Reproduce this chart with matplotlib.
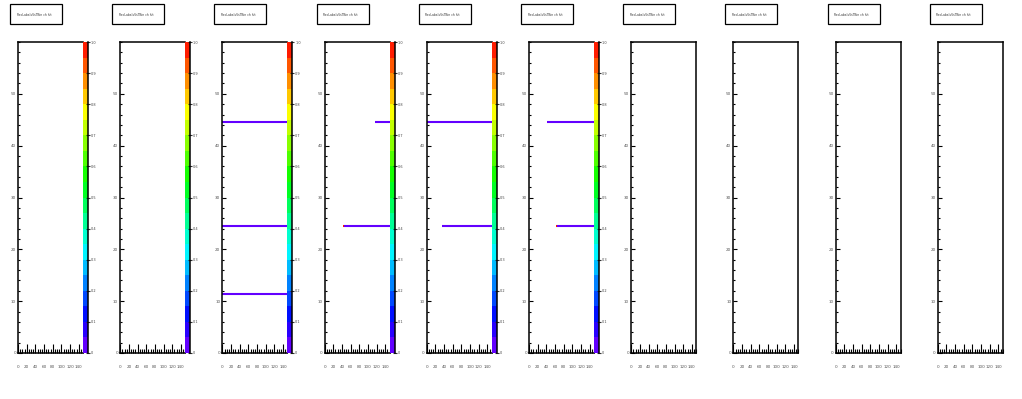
import colorsys
import numpy as np
import matplotlib
matplotlib.use('Agg')
import matplotlib.pyplot as plt
from matplotlib.colors import ListedColormap
from matplotlib.patches import Rectangle

# Data
n_panels = 10
panel_title = "RecLabelsVsTBin ch hit"
has_palette = [True, True, True, True, True, True, False, False, False, False]

x_ticks = [0, 20, 40, 60, 80, 100, 120, 140]
y_ticks = [0, 10, 20, 30, 40, 50]
z_ticks = [0, 0.1, 0.2, 0.3, 0.4, 0.5, 0.6, 0.7, 0.8, 0.9, 1.0]

# filled rows (drawn in the lowest palette colour): panel, x start, x end, y
seg_panel = [2, 2, 2, 3, 3, 4, 4, 5, 5]
seg_x0 = [0, 0, 0, 117, 44, 1, 35, 41, 64]
seg_x1 = [150, 150, 150, 150, 150, 150, 150, 150, 150]
seg_y = [44.6, 24.5, 11.4, 44.6, 24.5, 44.6, 24.5, 44.6, 24.5]

# single hotter cells at the start of some rows
hot_panel = [3, 5]
hot_x = [43, 63]
hot_y = [24.5, 24.5]

W, H = 1022, 399
fig = plt.figure(figsize=(W / 100, H / 100), dpi=100)


def px_axes(x0, y0, w, h):
    return fig.add_axes([x0 / W, 1 - (y0 + h) / H, w / W, h / H])


# ROOT-like pretty palette, violet -> red, 20 contour levels
n_levels = 20
band_colors = [colorsys.hls_to_rgb(270 * (1 - (k + 0.5) / n_levels) / 360, 0.5, 1.0) for k in range(n_levels)]
palette = ListedColormap(band_colors)

for i in range(n_panels):
    left = 18 + 102.2 * i

    # title box
    fig.add_artist(Rectangle(((left - 8) / W, 1 - 24 / H), 52 / W, 20 / H, transform=fig.transFigure,
                             fill=False, ec='black', lw=0.9))
    fig.text((left + 16) / W, 1 - 14.5 / H, panel_title, fontsize=2.2, color='#333333', ha='center', va='center')

    ax = px_axes(left, 42, 65, 311)
    ax.set_xlim(0, 150)
    ax.set_ylim(0, 60)
    ax.set_xticks(x_ticks)
    ax.set_yticks(y_ticks)
    ax.set_xticks(np.arange(0, 151, 5), minor=True)
    ax.set_yticks(np.arange(0, 61, 2), minor=True)
    ax.tick_params(axis='x', which='major', direction='in', length=6.5, width=0.8, labelsize=3, pad=8.5, labelcolor='#555555')
    ax.tick_params(axis='x', which='minor', direction='in', length=3, width=0.8)
    ax.tick_params(axis='y', which='major', direction='in', length=3, width=0.8, labelsize=3, pad=1.5, labelcolor='#555555')
    ax.tick_params(axis='y', which='minor', direction='in', length=1.5, width=0.8)
    for s in ax.spines.values():
        s.set_linewidth(1.1)

    for p, x0, x1, y in zip(seg_panel, seg_x0, seg_x1, seg_y):
        if p == i:
            ax.hlines(y, x0, x1, color=band_colors[0], lw=1.5)
    for p, x, y in zip(hot_panel, hot_x, hot_y):
        if p == i:
            ax.hlines(y, x, x + 1.5, color=band_colors[-1], lw=1.5)

    if has_palette[i]:
        ax.spines['right'].set_visible(False)
        cax = px_axes(left + 65, 42, 5, 311)
        cax.imshow(np.arange(n_levels).reshape(-1, 1), cmap=palette, origin='lower', aspect='auto',
                   extent=[0, 1, 0, 1], interpolation='nearest')
        cax.set_xticks([])
        cax.yaxis.tick_right()
        cax.set_yticks(z_ticks)
        cax.set_yticklabels([str(z) for z in z_ticks])
        cax.tick_params(axis='y', direction='inout', length=3, width=0.8, color='#333333', labelsize=2.5,
                        pad=0.5, labelcolor='#444444')
        for side in ['left', 'top', 'bottom']:
            cax.spines[side].set_visible(False)
        cax.spines['right'].set_linewidth(1.1)

fig.savefig('out.png', dpi=100)
